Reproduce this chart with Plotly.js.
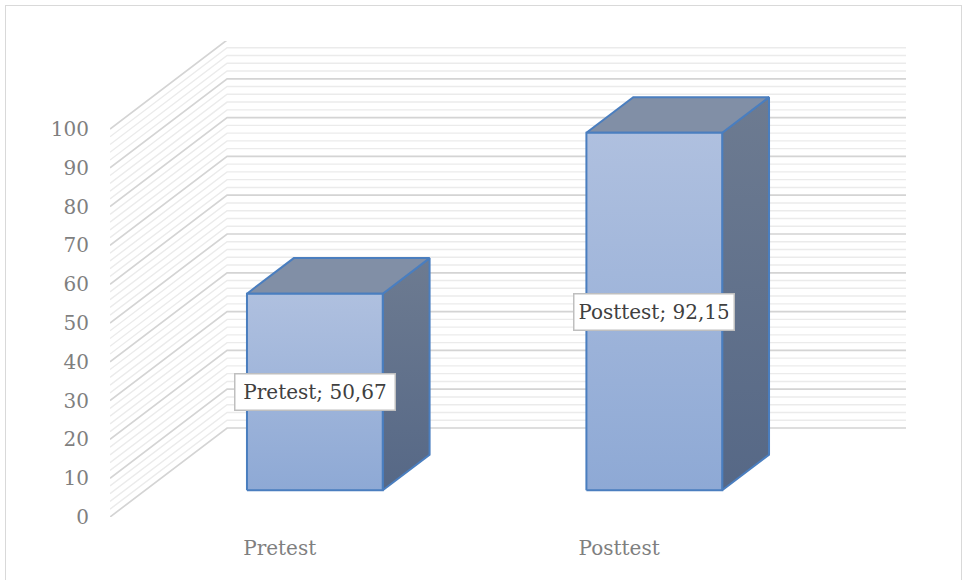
<!DOCTYPE html>
<html>
<head>
<meta charset="utf-8">
<script src="https://cdn.plot.ly/plotly-3.0.1.min.js"></script>
<style>
  html, body { margin: 0; padding: 0; background: #ffffff; overflow: hidden; }
  #wrap { position: relative; width: 964px; height: 580px; }
  #chart { width: 964px; height: 580px; }
  #frame { position: absolute; left: 5px; top: 5px; width: 957px; height: 600px;
           border: 1px solid #d9d9d9; pointer-events: none; box-sizing: border-box; }
</style>
</head>
<body>
<div id="wrap">
  <div id="chart"></div>
  <div id="frame"></div>
</div>
<script>
// ---- data ----
const categories = ['Pretest', 'Posttest'];
const values = [50.67, 92.15];
const dataLabels = ['Pretest; 50,67', 'Posttest; 92,15'];
const yTickVals = [0, 10, 20, 30, 40, 50, 60, 70, 80, 90, 100];
const yMax = 100;
const majorStep = 10;
const minorStep = 2;

// ---- oblique projection (category units, value units, depth 0..1) ----
const DX = 0.345;   // x shift (category units) per full depth
const DY = 22.94;   // y shift (value units) per full depth
function proj(u, v, d) { return [u + DX * d, v + DY * d]; }

const uMin = -0.5, uMax = categories.length - 0.5;
const halfW = 0.2, d0 = 0.30, d1 = 0.70;

const traces = [];

// gridlines on left wall and back wall
function gridTrace(step, skipMajor, color, width) {
  const xs = [], ys = [];
  for (let t = 0; t <= yMax + 1e-9; t += step) {
    const isMajor = Math.abs(t / majorStep - Math.round(t / majorStep)) < 1e-9;
    if (skipMajor && isMajor) continue;
    const a = proj(uMin, t, 0), b = proj(uMin, t, 1), c = proj(uMax, t, 1);
    xs.push(a[0], b[0], c[0], null);
    ys.push(a[1], b[1], c[1], null);
  }
  return { type: 'scatter', mode: 'lines', x: xs, y: ys, hoverinfo: 'skip',
           line: { color: color, width: width }, showlegend: false };
}
traces.push(gridTrace(minorStep, true, '#ebebeb', 1.4));
traces.push(gridTrace(majorStep, false, '#d4d4d4', 1.7));

// bars as 3D boxes
const edge = '#4a7ebf';
function face(pts, opts) {
  const xs = pts.map(p => p[0]); const ys = pts.map(p => p[1]);
  xs.push(xs[0]); ys.push(ys[0]);
  return Object.assign({ type: 'scatter', mode: 'lines', x: xs, y: ys, fill: 'toself',
    hoverinfo: 'skip', showlegend: false, line: { color: edge, width: 2 } }, opts);
}
categories.forEach((cat, i) => {
  const v = values[i];
  const front = [proj(i - halfW, 0, d0), proj(i + halfW, 0, d0), proj(i + halfW, v, d0), proj(i - halfW, v, d0)];
  const side = [proj(i + halfW, 0, d0), proj(i + halfW, 0, d1), proj(i + halfW, v, d1), proj(i + halfW, v, d0)];
  const top = [proj(i - halfW, v, d0), proj(i + halfW, v, d0), proj(i + halfW, v, d1), proj(i - halfW, v, d1)];
  traces.push(face(side, { fillcolor: '#627290',
    fillgradient: { type: 'vertical', colorscale: [[0, '#566886'], [1, '#6d7b91']] } }));
  traces.push(face(top, { fillcolor: '#818fa6' }));
  traces.push(face(front, { fillcolor: '#9fb4da',
    fillgradient: { type: 'vertical', colorscale: [[0, '#8ea9d5'], [1, '#afc0df']] } }));
});

// data labels
const annotations = categories.map((cat, i) => {
  const p = proj(i, values[i] / 2, d0);
  return { x: p[0], y: p[1], xref: 'x', yref: 'y', text: dataLabels[i], showarrow: false,
           font: { family: 'DejaVu Serif', size: 20, color: '#404040' },
           width: 149, height: 25,
           bgcolor: '#ffffff', bordercolor: '#bfbfbf', borderwidth: 1.5, borderpad: 5 };
});

const layout = {
  width: 964, height: 580,
  margin: { l: 110, r: 58, t: 41, b: 63 },
  paper_bgcolor: '#ffffff', plot_bgcolor: 'rgba(0,0,0,0)',
  showlegend: false,
  font: { family: 'DejaVu Serif', size: 20, color: '#7f7f7f' },
  xaxis: { range: [uMin, uMax + DX], tickmode: 'array', tickvals: categories.map((c, i) => i),
           ticktext: categories, showgrid: false, zeroline: false, showline: false,
           ticks: '', ticklabelstandoff: 17, fixedrange: true },
  yaxis: { range: [0, 122.68], tickmode: 'array', tickvals: yTickVals,
           showgrid: false, zeroline: false, showline: false, ticks: '',
           ticklabelstandoff: 20, fixedrange: true },
  annotations: annotations
};

Plotly.newPlot('chart', traces, layout, { displayModeBar: false, staticPlot: true });
</script>
</body>
</html>
